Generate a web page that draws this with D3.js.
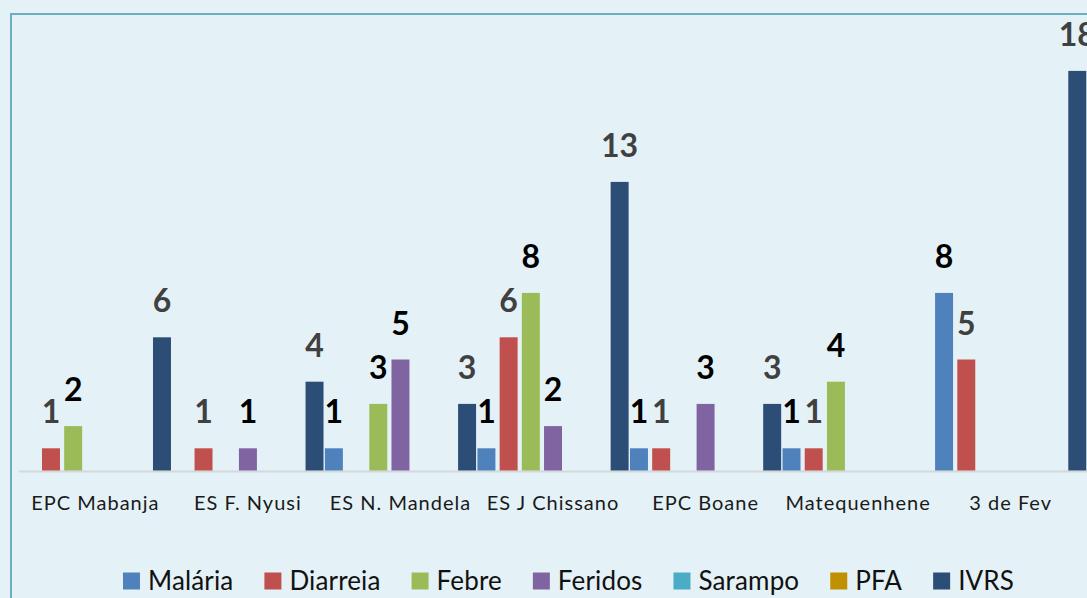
<!DOCTYPE html>
<html>
<head>
<meta charset="utf-8">
<script src="https://cdn.jsdelivr.net/npm/d3@7"></script>
<style>
  html, body { margin: 0; padding: 0; background: #e4f2f7; overflow: hidden; }
  svg { display: block; font-family: Lato, "Open Sans", sans-serif; }
</style>
</head>
<body>
<svg id="chart" width="1087" height="598"></svg>
<script>
// Data (blank cells are null)
const categories = ["EPC Mabanja", "ES F. Nyusi", "ES N. Mandela", "ES J Chissano", "EPC Boane", "Matequenhene", "3 de Fev"];
const seriesNames = ["Malária", "Diarreia", "Febre", "Feridos", "Sarampo", "PFA", "IVRS"];
const malaria  = [null, null, 1, 1, 1, 1, 8];
const diarreia = [1, 1, null, 6, 1, 1, 5];
const febre    = [2, null, 3, 8, null, 4, null];
const feridos  = [null, 1, 5, 2, 3, null, null];
const sarampo  = [null, null, null, null, null, null, null];
const pfa      = [null, null, null, null, null, null, null];
const ivrs     = [6, 4, 3, 13, 3, null, 18];

const seriesValues = [malaria, diarreia, febre, feridos, sarampo, pfa, ivrs];
const colors = ["#4f81bd", "#c0504d", "#9bbb59", "#8064a2", "#4bacc6", "#bf9000", "#2c4d75"];
const labelColors = ["#000", "#404040", "#000", "#000", "#000", "#000", "#404040"];

const svg = d3.select("#chart");
const W = 1087, H = 598;

// frame of the chart area
svg.append("rect").attr("width", W).attr("height", H).attr("fill", "#e4f2f7");
svg.append("path")
  .attr("d", `M11,${H} V14 H${W}`)
  .attr("fill", "none")
  .attr("stroke", "#6cadbf")
  .attr("stroke-width", 2);

const baseY = 470.5;
const groupStep = 152.55;
const x0 = d3.scaleBand()
  .domain(categories)
  .range([19.1, 19.1 + groupStep * categories.length])
  .padding(0);

const slot = 22.2;
const innerW = slot * seriesNames.length;
const x1 = d3.scaleBand()
  .domain(seriesNames)
  .range([(groupStep - innerW) / 2, (groupStep - innerW) / 2 + innerW])
  .paddingInner(0.19)
  .paddingOuter(0.095);

const y = d3.scaleLinear().domain([0, 18]).range([baseY, 70.9]);

// baseline
svg.append("line")
  .attr("x1", 19).attr("x2", W)
  .attr("y1", baseY + 1).attr("y2", baseY + 1)
  .attr("stroke", "#d4d8da")
  .attr("stroke-width", 2);

const rows = [];
categories.forEach((c, i) => {
  seriesNames.forEach((s, j) => {
    const v = seriesValues[j][i];
    if (v != null) rows.push({ cat: c, series: s, si: j, value: v });
  });
});

const groups = svg.append("g");
groups.selectAll("rect.bar")
  .data(rows)
  .join("rect")
  .attr("class", "bar")
  .attr("x", d => x0(d.cat) + x1(d.series))
  .attr("width", x1.bandwidth())
  .attr("y", d => y(d.value))
  .attr("height", d => baseY - y(d.value))
  .attr("fill", d => colors[d.si]);

groups.selectAll("text.lab")
  .data(rows)
  .join("text")
  .attr("class", "lab")
  .attr("x", d => x0(d.cat) + x1(d.series) + x1.bandwidth() / 2)
  .attr("y", d => y(d.value) - 25)
  .attr("text-anchor", "middle")
  .attr("font-size", 32)
  .attr("font-weight", "bold")
  .attr("fill", d => labelColors[d.si])
  .text(d => d.value);

// category labels
svg.append("g").selectAll("text")
  .data(categories)
  .join("text")
  .attr("x", d => x0(d) + x0.bandwidth() / 2)
  .attr("y", 510)
  .attr("text-anchor", "middle")
  .attr("font-size", 20)
  .attr("letter-spacing", 1)
  .attr("fill", "#1a1a1a")
  .text(d => d);

// legend
const legend = svg.append("g");
const items = legend.selectAll("g")
  .data(seriesNames)
  .join("g");
items.append("rect")
  .attr("width", 17).attr("height", 17)
  .attr("y", 572.5)
  .attr("fill", (d, i) => colors[i]);
items.append("text")
  .attr("x", 25)
  .attr("y", 590)
  .attr("font-size", 26)
  .attr("letter-spacing", 0.15)
  .attr("fill", "#111")
  .text(d => d);

let cx = 0;
const widths = [];
items.each(function() {
  const w = 25 + this.querySelector("text").getComputedTextLength();
  widths.push(w);
});
const total = d3.sum(widths) + 31 * (widths.length - 1);
cx = 568.5 - total / 2;
items.attr("transform", (d, i) => {
  const t = `translate(${cx},0)`;
  cx += widths[i] + 31;
  return t;
});
</script>
</body>
</html>
